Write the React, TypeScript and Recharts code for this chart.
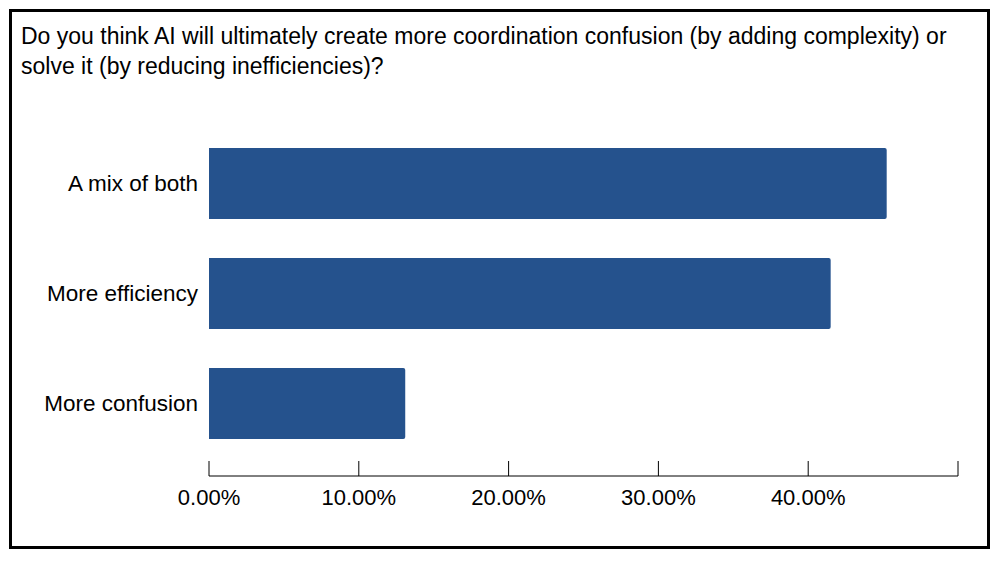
import React from "react";
import { BarChart, Bar, XAxis, YAxis } from "recharts";

const categories = ["A mix of both", "More efficiency", "More confusion"];
const shares = [45.24, 41.5, 13.1];
const xTicks = [0, 10, 20, 30, 40, 50];

const data = categories.map((name, i) => ({ name, value: shares[i] }));

const FONT = '"Liberation Sans", Arial, sans-serif';
const BAR_COLOR = "#25528d";

function XTick(props: any) {
  const { x, y, payload } = props;
  const v = payload.value as number;
  return (
    <g>
      <line x1={x} x2={x} y1={y - 15} y2={y} stroke="#000" strokeWidth={1} />
      {v < 50 && (
        <text x={x} y={y + 29} textAnchor="middle" fill="#000" fontSize={22} fontFamily={FONT}>
          {v.toFixed(2)}%
        </text>
      )}
    </g>
  );
}

export default function App() {
  return (
    <div
      style={{
        position: "fixed",
        left: 0,
        top: 0,
        width: 1000,
        height: 562,
        background: "#fff",
        fontFamily: FONT,
      }}
    >
      <div
        style={{
          position: "absolute",
          left: 9,
          top: 9,
          width: 981,
          height: 540,
          boxSizing: "border-box",
          border: "3px solid #000",
        }}
      />
      <div
        style={{
          position: "absolute",
          left: 21,
          top: 21,
          fontSize: 23,
          lineHeight: "30px",
          color: "#000",
          whiteSpace: "nowrap",
        }}
      >
        Do you think AI will ultimately create more coordination confusion (by adding complexity) or
        <br />
        solve it (by reducing inefficiencies)?
      </div>
      <div style={{ position: "absolute", left: 0, top: 0 }}>
        <BarChart
          width={1000}
          height={562}
          data={data}
          layout="vertical"
          margin={{ top: 128, right: 42, bottom: 46, left: 9 }}
        >
          <XAxis
            type="number"
            domain={[0, 50]}
            ticks={xTicks}
            interval={0}
            tickSize={0}
            tickMargin={0}
            tickLine={false}
            axisLine={{ stroke: "#000", strokeWidth: 1 }}
            tick={<XTick />}
            height={40}
          />
          <YAxis
            type="category"
            dataKey="name"
            width={200}
            axisLine={false}
            tickLine={false}
            tickSize={0}
            tickMargin={11}
            padding={{ top: 0, bottom: 18 }}
            tick={{ fill: "#000", fontSize: 22.5, fontFamily: FONT }}
          />
          <Bar
            dataKey="value"
            fill={BAR_COLOR}
            barSize={71}
            radius={[0, 2, 2, 0]}
            isAnimationActive={false}
          />
        </BarChart>
      </div>
    </div>
  );
}
